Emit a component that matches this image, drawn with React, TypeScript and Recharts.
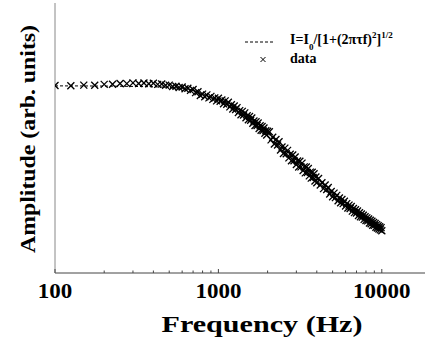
import { ComposedChart, Scatter, Line, XAxis, YAxis, Legend } from 'recharts';

const freqLow = [
  100, 125, 150, 175, 200, 225, 250, 275, 300, 325, 350, 375, 400, 425, 450, 475,
  500, 525, 550, 575, 600, 625, 650, 675, 700, 725, 750, 775, 800, 825, 850, 875,
  900, 925, 950, 975, 1000, 1025, 1050, 1075, 1100, 1125, 1150, 1175, 1200, 1225,
  1250, 1275, 1300, 1325, 1350, 1375, 1400, 1425, 1450, 1475, 1500, 1525, 1550,
  1575, 1600, 1625, 1650, 1675, 1700, 1725, 1750, 1775, 1800, 1825, 1850, 1875,
  1900, 1925, 1950, 1975, 2000,
];
const ampLow = [
  1.0, 0.999, 1.002, 1.001, 1.006, 1.007, 1.011, 1.01, 1.014, 1.011, 1.013, 1.009,
  1.012, 1.006, 1.008, 1.001, 1.002, 0.995, 0.996, 0.989, 0.992, 0.983, 0.985,
  0.974, 0.979, 0.962, 0.967, 0.947, 0.954, 0.94, 0.95, 0.934, 0.942, 0.926,
  0.934, 0.918, 0.932, 0.916, 0.923, 0.903, 0.918, 0.9, 0.911, 0.886, 0.897,
  0.875, 0.891, 0.872, 0.882, 0.856, 0.866, 0.844, 0.862, 0.843, 0.854, 0.828,
  0.839, 0.817, 0.835, 0.815, 0.827, 0.799, 0.811, 0.787, 0.807, 0.787, 0.8,
  0.771, 0.785, 0.761, 0.781, 0.76, 0.773, 0.745, 0.759, 0.736, 0.756,
];
const freqMid = [
  2050, 2100, 2150, 2200, 2250, 2300, 2350, 2400, 2450, 2500, 2550, 2600, 2650,
  2700, 2750, 2800, 2850, 2900, 2950, 3000, 3050, 3100, 3150, 3200, 3250, 3300,
  3350, 3400, 3450, 3500, 3550, 3600, 3650, 3700, 3750, 3800, 3850, 3900, 3950, 4000,
];
const ampMid = [
  0.753, 0.71, 0.724, 0.688, 0.712, 0.683, 0.7, 0.656, 0.672, 0.637, 0.666, 0.636,
  0.654, 0.614, 0.633, 0.599, 0.629, 0.599, 0.619, 0.579, 0.597, 0.565, 0.596, 0.566,
  0.586, 0.547, 0.566, 0.534, 0.565, 0.536, 0.557, 0.518, 0.538, 0.506, 0.537, 0.509,
  0.529, 0.491, 0.512, 0.481,
];
const freqHigh = [
  4100, 4200, 4300, 4400, 4500, 4600, 4700, 4800, 4900, 5000, 5100, 5200, 5300,
  5400, 5500, 5600, 5700, 5800, 5900, 6000, 6100, 6200, 6300, 6400, 6500, 6600,
  6700, 6800, 6900, 7000, 7100, 7200, 7300, 7400, 7500, 7600, 7700, 7800, 7900,
  8000, 8100, 8200, 8300, 8400, 8500, 8600, 8700, 8800, 8900, 9000, 9100, 9200,
  9300, 9400, 9500, 9600, 9700, 9800, 9900, 10000,
];
const ampHigh = [
  0.504, 0.469, 0.481, 0.45, 0.469, 0.445, 0.456, 0.421, 0.435, 0.407, 0.426, 0.402,
  0.414, 0.385, 0.4, 0.375, 0.392, 0.37, 0.383, 0.357, 0.37, 0.347, 0.362, 0.344,
  0.355, 0.33, 0.344, 0.322, 0.337, 0.32, 0.331, 0.307, 0.321, 0.3, 0.315, 0.298,
  0.308, 0.286, 0.3, 0.28, 0.294, 0.278, 0.288, 0.267, 0.281, 0.263, 0.276, 0.255,
  0.269, 0.254, 0.264, 0.244, 0.258, 0.24, 0.252, 0.235, 0.247, 0.23, 0.242, 0.225,
];

// fitted curve I = I0 / [1 + (2 pi tau f)^2]^1/2
const fitFreq = [100, 200, 300, 400, 500, 600, 700, 800, 1000, 1500, 2000, 3000, 5000, 7000, 10000];
const fitAmp = [0.998, 0.997, 0.995, 0.993, 0.99, 0.984, 0.975, 0.955, 0.924, 0.833, 0.745, 0.595, 0.42, 0.324, 0.231];

const majorTicks = [100, 1000, 10000];
const minorTicks = [200, 300, 400, 500, 600, 700, 800, 900, 2000, 3000, 4000, 5000, 6000, 7000, 8000, 9000];
const allTicks = [...majorTicks, ...minorTicks].sort((a, b) => a - b);

const zip = (fs: number[], as: number[]) => fs.map((f, i) => ({ freq: f, amp: as[i] }));
const points = [...zip(freqLow, ampLow), ...zip(freqMid, ampMid), ...zip(freqHigh, ampHigh)];
const fitData = zip(fitFreq, fitAmp);

const SERIF = 'Liberation Serif, Times New Roman, serif';
const serifBold = { fontFamily: SERIF, fontWeight: 700 };

function Cross(props: any) {
  const { cx, cy } = props;
  if (cx == null || cy == null) return null;
  const s = 3.5;
  return (
    <g stroke="#000" strokeWidth={1.3}>
      <line x1={cx - s} y1={cy - s} x2={cx + s} y2={cy + s} />
      <line x1={cx - s} y1={cy + s} x2={cx + s} y2={cy - s} />
    </g>
  );
}

function BottomTick(props: any) {
  const { x, y, payload } = props;
  const major = majorTicks.includes(payload.value);
  const label = String(payload.value);
  return (
    <g>
      <line x1={x} x2={x} y1={y} y2={y - (major ? 4 : 2.5)} stroke="#444" />
      {major && (
        <text
          x={x}
          y={y + 25}
          textAnchor="middle"
          style={serifBold}
          fontSize={20}
          fill="#000"
          textLength={label.length * 11.5}
          lengthAdjust="spacingAndGlyphs"
        >
          {label}
        </text>
      )}
    </g>
  );
}

function TopTick(props: any) {
  const { x, y, payload } = props;
  const major = majorTicks.includes(payload.value);
  return <line x1={x} x2={x} y1={y} y2={y + (major ? 4 : 2.5)} stroke="#444" />;
}

function LegendBox() {
  const small = { fontSize: 9, position: 'relative' as const };
  return (
    <div style={{ position: 'relative', ...serifBold, color: '#000' }}>
      <svg style={{ position: 'absolute', left: 243, top: 36 }} width={34} height={12}>
        <line x1={2} x2={30} y1={6} y2={6} stroke="#000" strokeDasharray="3 2" />
      </svg>
      <div style={{ position: 'absolute', left: 290, top: 32, fontSize: 14, whiteSpace: 'nowrap', lineHeight: '16px' }}>
        I=I<span style={{ ...small, top: 6 }}>0</span>/[1+(2πτf)
        <span style={{ ...small, top: -6 }}>2</span>]
        <span style={{ ...small, top: -6 }}>1/2</span>
      </div>
      <svg style={{ position: 'absolute', left: 257, top: 54 }} width={12} height={12}>
        <line x1={3.5} y1={3} x2={8.5} y2={8} stroke="#000" />
        <line x1={3.5} y1={8} x2={8.5} y2={3} stroke="#000" />
      </svg>
      <div style={{ position: 'absolute', left: 290, top: 51, fontSize: 14, lineHeight: '16px' }}>data</div>
    </div>
  );
}

export default function App() {
  return (
    <div style={{ position: 'absolute', left: 0, top: 0, width: 425, height: 347, overflow: 'hidden', background: '#fff' }}>
      <ComposedChart width={440} height={347} margin={{ top: 3, right: 9, bottom: 0, left: 0 }}>
        <XAxis
          dataKey="freq"
          type="number"
          scale="log"
          domain={[100, 20000]}
          allowDataOverflow
          ticks={allTicks}
          interval={0}
          height={74}
          tickSize={0}
          tickMargin={0}
          axisLine={{ stroke: '#444' }}
          tickLine={false}
          tick={(p: any) => <BottomTick {...p} />}
          label={{
            content: (p: any) => {
              const vb = p.viewBox || { x: 55, y: 273, width: 376 };
              return (
                <text
                  x={262}
                  y={vb.y + 59}
                  textAnchor="middle"
                  style={serifBold}
                  fontSize={24}
                  fill="#000"
                  textLength={201}
                  lengthAdjust="spacingAndGlyphs"
                >
                  Frequency (Hz)
                </text>
              );
            },
          }}
        />
        <XAxis
          xAxisId="top"
          orientation="top"
          dataKey="freq"
          type="number"
          scale="log"
          domain={[100, 20000]}
          allowDataOverflow
          ticks={allTicks}
          interval={0}
          height={0}
          tickSize={0}
          tickMargin={0}
          axisLine={{ stroke: '#555' }}
          tickLine={false}
          tick={(p: any) => <TopTick {...p} />}
        />
        <YAxis
          type="number"
          domain={[0, 1.44]}
          width={55}
          tick={false}
          tickLine={false}
          axisLine={{ stroke: '#888' }}
          label={{
            content: () => (
              <text
                x={35}
                y={139}
                transform="rotate(-90 35 139)"
                textAnchor="middle"
                style={serifBold}
                fontSize={21}
                fill="#000"
                textLength={228}
                lengthAdjust="spacingAndGlyphs"
              >
                Amplitude (arb. units)
              </text>
            ),
          }}
        />
        <Legend
          layout="horizontal"
          verticalAlign="middle"
          align="center"
          wrapperStyle={{ left: 0, top: 0, width: 425, height: 0 }}
          content={() => <LegendBox />}
        />
        <Line
          data={fitData}
          dataKey="amp"
          type="monotone"
          stroke="#000"
          strokeWidth={1}
          strokeDasharray="3 2"
          dot={false}
          activeDot={false}
          isAnimationActive={false}
        />
        <Scatter data={points} dataKey="amp" shape={(p: any) => <Cross {...p} />} isAnimationActive={false} />
      </ComposedChart>
    </div>
  );
}
